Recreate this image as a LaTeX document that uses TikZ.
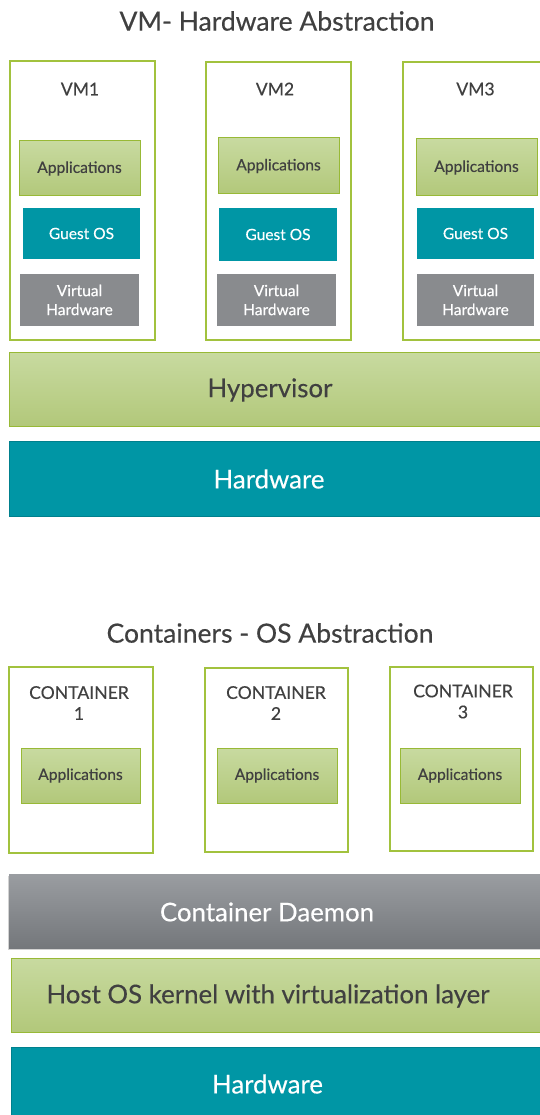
\documentclass[tikz,border=0pt]{standalone}
\usepackage{fontspec}
\setmainfont{Lato}[FakeBold=0.35]
\usetikzlibrary{shadows}

\definecolor{txt}{HTML}{404040}
\definecolor{frameGreen}{HTML}{A2C23E}
\definecolor{appBorder}{HTML}{98B936}
\definecolor{appTop}{HTML}{C8DAA0}
\definecolor{appBot}{HTML}{B2C87A}
\definecolor{tealFill}{HTML}{0096A5}
\definecolor{tealEdge}{HTML}{00808D}
\definecolor{vGray}{HTML}{898B8E}
\definecolor{dTop}{HTML}{9A9DA1}
\definecolor{dBot}{HTML}{74777B}

\begin{document}
\begin{tikzpicture}[x=1pt,y=-1pt,
  sz/.style 2 args={minimum width=#1pt, minimum height=#2pt},
  box/.style={inner sep=0pt, outer sep=0pt, anchor=center},
  frame/.style={box, draw=frameGreen, line width=1.2pt, fill=white},
  apps/.style={box, draw=appBorder, line width=1pt, top color=appTop, bottom color=appBot,
    text=txt, font=\fontsize{15.6}{18}\selectfont},
  guest/.style={box, fill=tealFill, text=white, font=\fontsize{15.5}{18}\selectfont},
  vhw/.style={box, fill=vGray, text=white, align=center, font=\fontsize{15.5}{19}\selectfont},
  layergreen/.style={box, draw=appBorder, line width=1pt, top color=appTop, bottom color=appBot},
  layerteal/.style={box, draw=tealEdge, line width=1pt, fill=tealFill},
  layergray/.style={box, top color=dTop, bottom color=dBot,
    drop shadow={shadow xshift=-1pt, shadow yshift=-2pt, opacity=0.35}},
  bigtext/.style={inner sep=0pt, font=\fontsize{25.8}{30}\selectfont},
  title/.style={inner sep=0pt, text=txt, font=\fontsize{26.5}{30}\selectfont},
  vmlabel/.style={inner sep=0pt, text=txt, font=\fontsize{17.5}{20}\selectfont},
  ctlabel/.style={inner sep=0pt, text=txt, align=center, font=\fontsize{17.6}{21}\selectfont}
]
\clip (0,0) rectangle (540,1115);
\fill[white] (0,0) rectangle (540,1115);

% ---------- virtual machines ----------
\node[title] (vmTitle) at (277,21) {VM- Hardware Abstraction};

\node[frame, sz={145}{279}] (vm1) at (82.5,200.5) {};
\node[frame, sz={145}{278}] (vm2) at (278.5,201) {};
\node[frame, sz={145}{278}] (vm3) at (475.5,201) {};

\node[vmlabel] (vm1Label) at (80,89) {VM1};
\node[vmlabel] (vm2Label) at (275,89) {VM2};
\node[vmlabel] (vm3Label) at (475.5,89) {VM3};

\node[apps, sz={121}{55}] (vm1Apps) at (79.5,168.5) {Applications};
\node[apps, sz={121}{56}] (vm2Apps) at (278.5,166) {Applications};
\node[apps, sz={121}{57}] (vm3Apps) at (476.5,167.5) {Applications};

\node[guest, sz={117}{51}] (vm1Guest) at (81.5,233.5) {Guest OS};
\node[guest, sz={118}{53}] (vm2Guest) at (278,234.5) {Guest OS};
\node[guest, sz={117}{51}] (vm3Guest) at (475.5,233.5) {Guest OS};

\node[vhw, sz={119}{52}] (vm1Hw) at (79.5,300) {Virtual\\Hardware};
\node[vhw, sz={119}{52}] (vm2Hw) at (276.5,300) {Virtual\\Hardware};
\node[vhw, sz={117}{52}] (vm3Hw) at (475.5,300) {Virtual\\Hardware};

\node[layergreen, sz={551}{74}] (hyper) at (284.5,389) {};
\node[bigtext, text=txt] (hyperText) at (270,390) {Hypervisor};

\node[layerteal, sz={551}{75}] (hwTop) at (284.5,478.5) {};
\node[bigtext, text=white] (hwTopText) at (269,479) {Hardware};

% ---------- containers ----------
\node[title] (ctTitle) at (270,633) {Containers - OS Abstraction};

\node[frame, sz={144}{186}] (ct1) at (81,760) {};
\node[frame, sz={143}{184}] (ct2) at (276.5,760) {};
\node[frame, sz={143}{184}] (ct3) at (461.5,759) {};

\node[ctlabel] (ct1Label) at (79,703) {CONTAINER\\1};
\node[ctlabel] (ct2Label) at (276,703) {CONTAINER\\2};
\node[ctlabel] (ct3Label) at (463,701.5) {CONTAINER\\3};

\node[apps, sz={119}{55}] (ct1Apps) at (80.5,775.5) {Applications};
\node[apps, sz={120}{55}] (ct2Apps) at (277,775.5) {Applications};
\node[apps, sz={120}{55}] (ct3Apps) at (460,775.5) {Applications};

\node[layergray, sz={551}{74}] (daemon) at (284.5,911) {};
\node[bigtext, text=white] (daemonText) at (267,912) {Container Daemon};

\node[layergreen, sz={549}{74}] (hostOS) at (285.5,995) {};
\node[bigtext, text=txt] (hostOSText) at (268,996) {Host OS kernel with virtualization layer};

\node[layerteal, sz={549}{83}] (hwBottom) at (285.5,1088.5) {};
\node[bigtext, text=white] (hwBottomText) at (267.5,1084) {Hardware};
\end{tikzpicture}
\end{document}
